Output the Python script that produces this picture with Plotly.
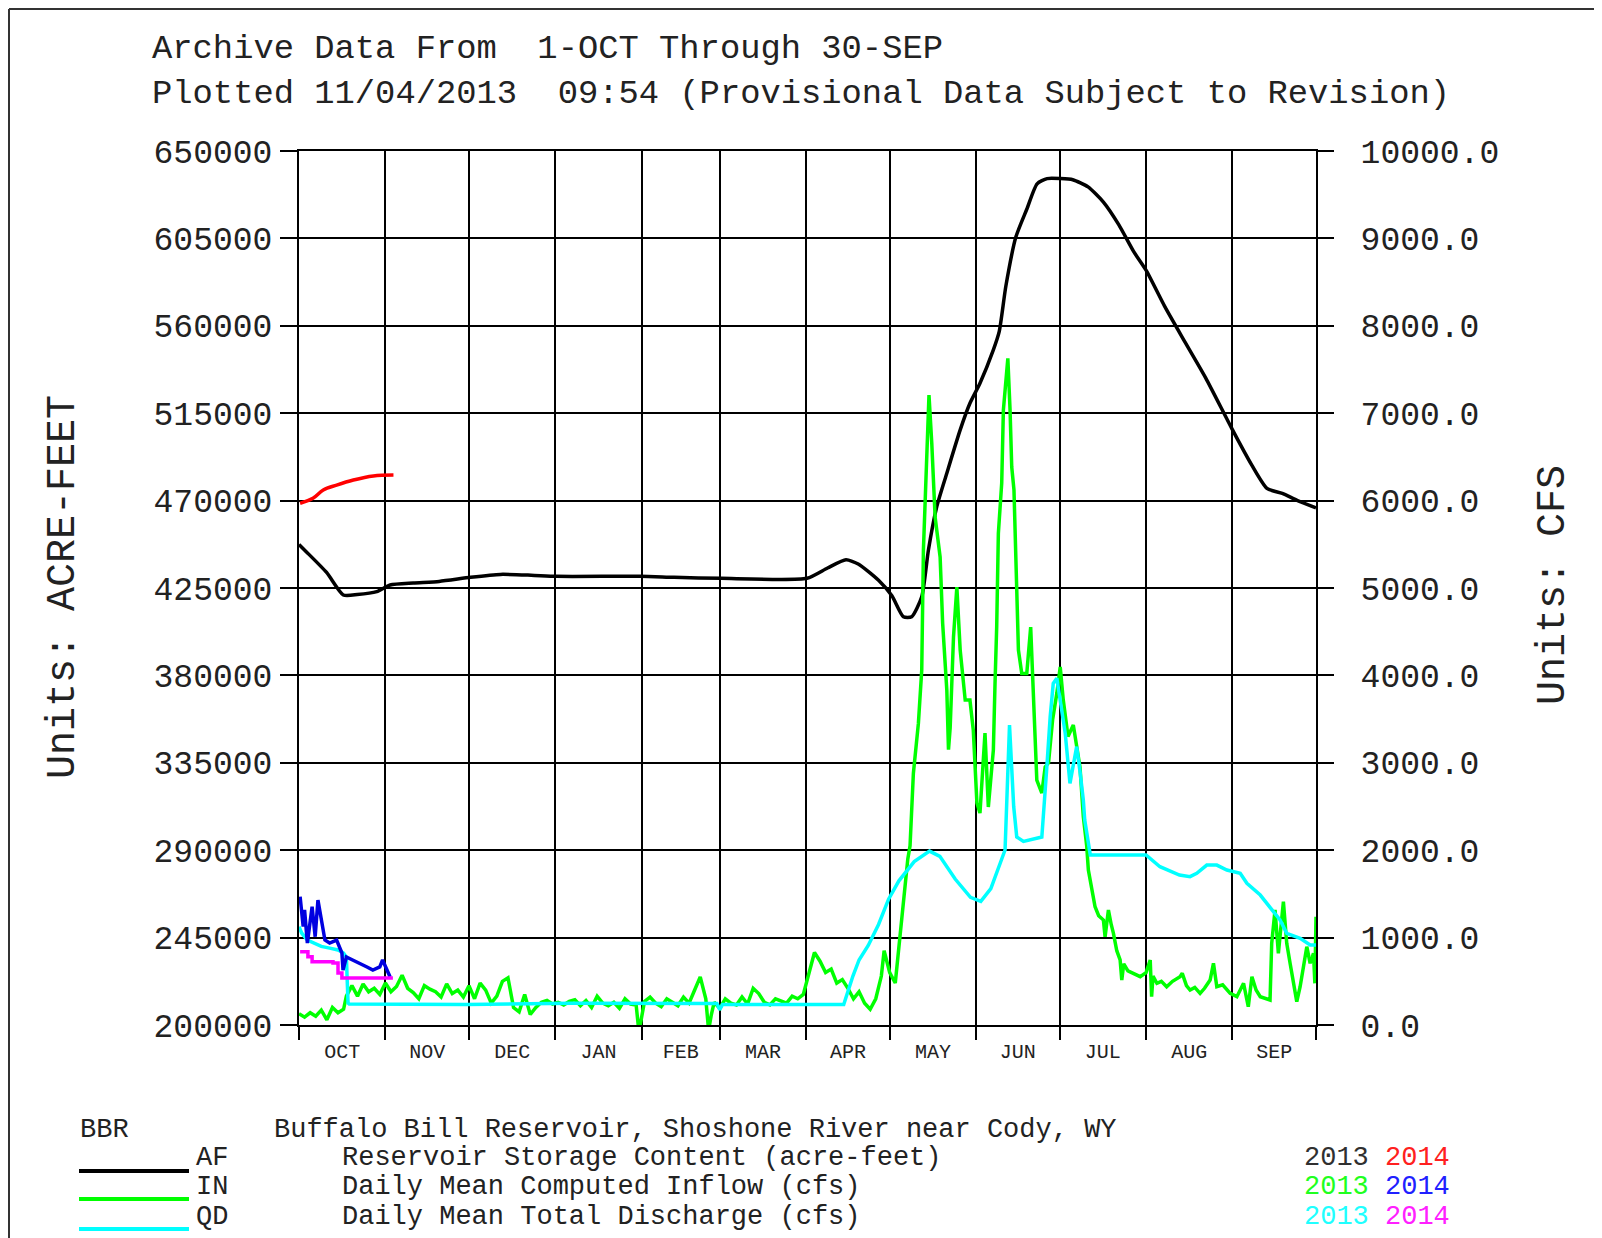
import pandas as pd
import plotly.graph_objects as go

# ---------------- data (day index = days after 1-Oct of the water year) ----------------
AF_2013_DAY = [0, 2.6, 9.9, 15.9, 20.9, 27.9, 32.7, 41, 50.3, 61.6, 72.3, 83.3, 92.4, 122.5, 134.6,
               151.5, 182.3, 189.7, 196.3, 200.7, 208, 212.8, 216.9, 219.9, 223.5, 225.9, 228.9,
               232.5, 237.3, 240.8, 244.4, 249.2, 251.3, 253.7, 257.3, 261.2, 264.9, 268.5, 273.3,
               277.7, 283.2, 288.7, 294.2, 299.7, 304.1, 310.7, 318, 325.4, 334.9, 341.9, 347.4,
               352.9, 358.4, 365]
AF_2013 = [447400, 443700, 433000, 421400, 421600, 423100, 426550, 427600, 428400, 430500, 432000,
           431600, 431000, 431000, 430500, 430000, 430000, 435300, 439500, 437400, 429000, 421000,
           410200, 410200, 420500, 444600, 466900, 484100, 506400, 520100, 530400, 547600, 557000,
           580500, 605800, 620000, 633100, 635800, 635800, 635200, 631500, 623700, 612100, 597900,
           588400, 570000, 551600, 533200, 506800, 488400, 476300, 473700, 470000, 466300]

AF_2014_DAY = [0.4, 5, 8.7, 13.5, 19.5, 26.7, 33.9]
AF_2014 = [468600, 471200, 475500, 478000, 480600, 482700, 483200]

IN_2013_DAY = [0, 2, 4, 6, 8, 10, 12, 14, 16, 17, 19, 21, 23, 25, 27, 29, 31, 33, 35, 37, 39, 41, 43,
               45, 47, 49, 51, 53, 55, 57, 59, 61, 63, 65, 67, 69, 71, 73, 75, 77, 79, 81, 83, 85, 87,
               89, 91, 93, 95, 97, 99, 101, 103, 105, 107, 109, 111, 113, 115, 117, 119, 121, 122,
               123, 124, 126, 128, 130, 132, 134, 136, 138, 140, 142, 144, 146, 147, 148, 149, 151,
               153, 155, 157, 159, 161, 163, 165, 167, 169, 171, 173, 175, 177, 179, 181, 183, 185,
               187, 189, 191, 193, 195, 197, 199, 201, 203, 205, 207, 209, 210, 212, 214, 215, 217,
               218.5, 219.3, 220.5, 222.3, 223.5, 224.1, 225.3, 226.1, 227.1, 228.3, 230.1, 231,
               232.5, 233.1, 233.7, 234.9, 236.1, 237.3, 239.1, 240.8, 242, 243.3, 244.4, 246.2,
               247.4, 249.2, 249.8, 250.4, 251, 252.2, 252.8, 253.8, 254.4, 255.2, 255.8, 256.6,
               257.6, 258.2, 259.4, 261.2, 262.6, 263.3, 264.2, 264.8, 266.6, 267.8, 269, 270.5, 272,
               273.2, 274.3, 276, 277.9, 279.1, 280.3, 281.5, 282.7, 283.3, 284.5, 285.7, 287, 288.7,
               289.3, 290.5, 291.5, 292.3, 293.5, 294.7, 295.3, 296, 297.5, 299.5, 301.9, 304, 305.5,
               306, 306.5, 307.9, 309.5, 311.4, 313.5, 316.2, 317, 318.5, 319.8, 321.5, 323.4, 325,
               327, 328.2, 329.4, 331.5, 334.2, 336.6, 339, 340.7, 342, 343.5, 345, 348.5, 349.1,
               350.3, 351.5, 353.3, 354.5, 355.7, 358.1, 359.3, 361.7, 362.9, 364.1, 364.6, 365]
IN_2013 = [130, 90, 140, 100, 170, 60, 200, 140, 180, 330, 450, 330, 470, 380, 420, 350, 480, 380,
           440, 570, 420, 370, 300, 450, 410, 380, 320, 470, 360, 400, 320, 450, 300, 480, 400, 250,
           330, 500, 540, 200, 150, 350, 120, 200, 260, 280, 240, 260, 230, 270, 290, 220, 280, 200,
           330, 250, 220, 260, 190, 300, 240, 230, -80, 80, 270, 320, 250, 210, 300, 260, 220, 320,
           250, 400, 550, 300, -60, 120, 260, 190, 300, 250, 230, 320, 240, 420, 360, 260, 230, 300,
           270, 250, 330, 300, 350, 600, 830, 730, 600, 640, 480, 520, 420, 300, 380, 250, 180, 300,
           560, 850, 600, 480, 800, 1500, 1900, 2050, 2880, 3450, 4061, 5434, 6658, 7207, 6658, 5812,
           5354, 4599, 3832, 3150, 3400, 4439, 5011, 4290, 3718, 3718, 3375, 2540, 2425, 3340, 2494,
           3146, 3908, 4553, 5625, 6200, 7036, 7493, 7627, 7036, 6384, 6124, 5053, 4290, 4023, 4023,
           4553, 3908, 3340, 2803, 2654, 2952, 3000, 3500, 3800, 4096, 3718, 3300, 3432, 3200, 2950,
           2383, 2050, 1773, 1550, 1353, 1250, 1201, 1010, 1316, 1150, 1049, 850, 744, 515, 700, 620,
           591, 553, 600, 744, 324, 560, 477, 500, 438, 500, 553, 591, 450, 400, 430, 362, 420, 515,
           706, 438, 460, 362, 324, 477, 209, 553, 400, 324, 286, 935, 1316, 820, 1411, 935, 706,
           267, 438, 896, 706, 820, 477, 1239]

IN_2014_DAY = [0.4, 1.5, 2, 3, 4.7, 5.8, 6.8, 8.2, 9.3, 11, 13.5, 15.4, 15.8, 17, 19.4, 21.9, 24.4,
               26.5, 29, 30, 31.4, 32.7]
IN_2014 = [1468, 1125, 1316, 938, 1354, 1010, 1430, 1201, 972, 938, 972, 824, 629, 778, 744, 709,
           664, 629, 664, 744, 629, 549]

QD_2013_DAY = [0, 1, 3, 5, 8, 11, 14, 16, 17, 17.6, 18, 60, 98, 150, 151, 152, 195.5, 198.8, 201,
               204.3, 208, 211.6, 215.3, 220.8, 226.3, 230, 235.5, 241, 244.7, 248.3, 252, 253.4,
               255, 255.8, 256.5, 257.6, 260, 266.6, 267.2, 268.4, 269.6, 270.7, 272, 273.2, 275,
               276.7, 279.1, 280.3, 281.5, 282, 284, 304, 309, 316, 319.8, 322.2, 325.8, 329.4, 333,
               337.8, 340.2, 345, 348.5, 352.1, 354.5, 359.3, 362.9, 365]
QD_2013 = [1125, 1050, 972, 940, 900, 880, 858, 824, 778, 252, 240, 235, 248, 245, 175, 235, 235,
           560, 744, 910, 1150, 1440, 1650, 1870, 1990, 1930, 1670, 1460, 1415, 1560, 1900, 2002,
           3432, 2917, 2500, 2151, 2100, 2151, 2383, 2952, 3527, 3908, 3966, 3718, 3337, 2764, 3185,
           2900, 2573, 2345, 1945, 1945, 1811, 1716, 1697, 1735, 1830, 1830, 1773, 1735, 1621, 1487,
           1353, 1201, 1049, 992, 915, 915]

QD_2014_DAY = [0.4, 3.2, 4.7, 12.2, 14, 15.4, 33.7]
QD_2014 = [839, 782, 725, 709, 595, 538, 538]

MONTHS = ["OCT", "NOV", "DEC", "JAN", "FEB", "MAR", "APR", "MAY", "JUN", "JUL", "AUG", "SEP"]
AF_TICKS = [200000, 245000, 290000, 335000, 380000, 425000, 470000, 515000, 560000, 605000, 650000]
CFS_TICKS = [0, 1000, 2000, 3000, 4000, 5000, 6000, 7000, 8000, 9000, 10000]

TITLE_1 = "Archive Data From  1-OCT Through 30-SEP"
TITLE_2 = "Plotted 11/04/2013  09:54 (Provisional Data Subject to Revision)"
STATION = "Buffalo Bill Reservoir, Shoshone River near Cody, WY"
LEGEND_ROWS = [("AF", "Reservoir Storage Content (acre-feet)", "#000000", "#303030", "#ff2020"),
               ("IN", "Daily Mean Computed Inflow (cfs)", "#00ff00", "#20ff20", "#2020ff"),
               ("QD", "Daily Mean Total Discharge (cfs)", "#00ffff", "#20ffff", "#ff20ff")]

# ---------------- helpers ----------------
BASE = pd.Timestamp("2012-10-01")


def to_dates(days):
    return [BASE + pd.Timedelta(days=float(d)) for d in days]


month_starts = pd.date_range("2012-10-01", "2013-10-01", freq="MS")
month_mids = [month_starts[i] + (month_starts[i + 1] - month_starts[i]) / 2 for i in range(12)]

FONT = "Liberation Mono, Courier New, monospace"
# the page body has an 8px margin: work in page pixels, convert to figure pixels
OFF = 8
PAGE_W, PAGE_H = 1602, 1238
W, H = PAGE_W - OFF, PAGE_H - OFF
PL, PR, PT, PB = 299, 1316, 151, 1025          # plot area in page pixels
L, T = PL - OFF, PT - OFF
R, B = W - (PR - OFF), H - (PB - OFF)
PW, PH = PR - PL, PB - PT


def px(x):
    return (x - PL) / PW


def py(y):
    return (PB - y) / PH


fig = go.Figure()
fig.add_trace(go.Scatter(x=to_dates(IN_2013_DAY), y=IN_2013, yaxis="y2", mode="lines",
                         line=dict(color="#00ff00", width=3.5), name="IN 2013"))
fig.add_trace(go.Scatter(x=to_dates(QD_2013_DAY), y=QD_2013, yaxis="y2", mode="lines",
                         line=dict(color="#00ffff", width=3.5), name="QD 2013"))
fig.add_trace(go.Scatter(x=to_dates(AF_2013_DAY), y=AF_2013, yaxis="y", mode="lines",
                         line=dict(color="#000000", width=3.5, shape="spline", smoothing=0.6),
                         name="AF 2013"))
fig.add_trace(go.Scatter(x=to_dates(AF_2014_DAY), y=AF_2014, yaxis="y", mode="lines",
                         line=dict(color="#ff0000", width=3.5, shape="spline"), name="AF 2014"))
fig.add_trace(go.Scatter(x=to_dates(IN_2014_DAY), y=IN_2014, yaxis="y2", mode="lines",
                         line=dict(color="#0000e0", width=3.5), name="IN 2014"))
fig.add_trace(go.Scatter(x=to_dates(QD_2014_DAY), y=QD_2014, yaxis="y2", mode="lines",
                         line=dict(color="#ff00ff", width=3.5, shape="hv"), name="QD 2014"))

tick_font = dict(family=FONT, size=33, color="#222222")

fig.update_layout(
    width=W, height=H,
    margin=dict(l=L, r=R, t=T, b=B, pad=0),
    paper_bgcolor="white", plot_bgcolor="white",
    showlegend=False,
    font=dict(family=FONT, color="#222222"),
    xaxis=dict(
        type="date",
        range=[month_starts[0], month_starts[-1]],
        tickmode="array", tickvals=month_mids, ticktext=MONTHS,
        ticks="", showgrid=False,
        tickfont=dict(family=FONT, size=20, color="#222222"),
        ticklabelstandoff=7,
        minor=dict(tickmode="array", tickvals=list(month_starts), ticks="outside", ticklen=13,
                   tickwidth=2, tickcolor="#000000", showgrid=True, gridcolor="#000000",
                   gridwidth=2),
        showline=True, linecolor="#000000", linewidth=2, mirror=True,
    ),
    yaxis=dict(
        range=[200000, 650000], tickmode="array", tickvals=AF_TICKS,
        ticktext=[str(v) for v in AF_TICKS],
        ticks="outside", ticklen=17, tickwidth=2, tickcolor="#000000",
        showgrid=True, gridcolor="#000000", gridwidth=2, zeroline=False,
        showline=True, linecolor="#000000", linewidth=2, mirror=True,
        tickfont=tick_font, ticklabelstandoff=1,
    ),
    yaxis2=dict(
        overlaying="y", side="right", range=[0, 10000], tickmode="array",
        tickvals=CFS_TICKS, ticktext=[f"{v:.1f}" for v in CFS_TICKS],
        ticks="outside", ticklen=17, tickwidth=2, tickcolor="#000000",
        showgrid=False, zeroline=False, showline=False,
        tickfont=tick_font, ticklabelstandoff=20,
    ),
)

ann = []
title_font = dict(family=FONT, size=33.8, color="#222222")
ann.append(dict(x=px(150), y=py(49), xref="paper", yref="paper", text=TITLE_1, showarrow=False,
                xanchor="left", yanchor="middle", font=title_font))
ann.append(dict(x=px(150), y=py(94), xref="paper", yref="paper", text=TITLE_2, showarrow=False,
                xanchor="left", yanchor="middle", font=title_font))
ann.append(dict(x=px(63), y=py(587), xref="paper", yref="paper", text="Units: ACRE-FEET",
                showarrow=False, textangle=-90, xanchor="center", yanchor="middle",
                font=dict(family=FONT, size=40, color="#222222")))
ann.append(dict(x=px(1553), y=py(585), xref="paper", yref="paper", text="Units: CFS",
                showarrow=False, textangle=-90, xanchor="center", yanchor="middle",
                font=dict(family=FONT, size=40, color="#222222")))

leg_font = dict(family=FONT, size=27, color="#222222")
ann.append(dict(x=px(78), y=py(1130), xref="paper", yref="paper", text="BBR", showarrow=False,
                xanchor="left", yanchor="middle", font=leg_font))
ann.append(dict(x=px(272), y=py(1130), xref="paper", yref="paper", text=STATION, showarrow=False,
                xanchor="left", yanchor="middle", font=leg_font))

shapes = []
row_y = [1158, 1187, 1217]
line_y = [1171, 1199, 1229]
for (code, desc, lc, c13, c14), ty, ly in zip(LEGEND_ROWS, row_y, line_y):
    shapes.append(dict(type="line", xref="paper", yref="paper", x0=px(79), x1=px(189),
                       y0=py(ly), y1=py(ly), line=dict(color=lc, width=4)))
    ann.append(dict(x=px(194), y=py(ty), xref="paper", yref="paper", text=code, showarrow=False,
                    xanchor="left", yanchor="middle", font=leg_font))
    ann.append(dict(x=px(340), y=py(ty), xref="paper", yref="paper", text=desc, showarrow=False,
                    xanchor="left", yanchor="middle", font=leg_font))
    ann.append(dict(x=px(1302), y=py(ty), xref="paper", yref="paper",
                    text=f"<span style='color:{c13}'>2013</span> <span style='color:{c14}'>2014</span>",
                    showarrow=False, xanchor="left", yanchor="middle", font=leg_font))

# outer frame (top and left edges)
shapes.append(dict(type="line", xref="paper", yref="paper", x0=px(9), x1=px(PAGE_W), y0=py(9),
                   y1=py(9), line=dict(color="#333333", width=2)))
shapes.append(dict(type="line", xref="paper", yref="paper", x0=px(9), x1=px(9), y0=py(9),
                   y1=py(PAGE_H), line=dict(color="#333333", width=2)))

fig.update_layout(annotations=ann, shapes=shapes)
fig.write_html("out.html")
